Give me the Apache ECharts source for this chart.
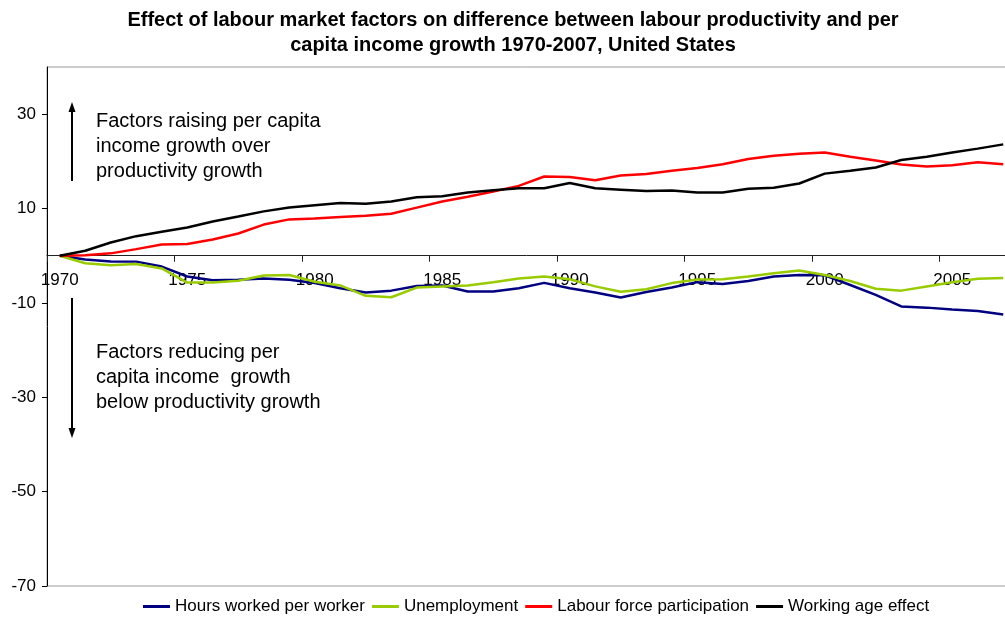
<!DOCTYPE html>
<html>
<head>
<meta charset="utf-8">
<title>Labour market factors, United States 1970-2007</title>
<script src="https://cdn.jsdelivr.net/npm/echarts@6/dist/echarts.min.js"></script>
<style>
  html, body { margin: 0; padding: 0; background: #fff; }
  #chart { width: 1005px; height: 617px; }
</style>
</head>
<body>
<div id="chart"></div>
<script>
// Years on the category axis
const years = [];
for (let y = 1970; y <= 2007; y++) years.push(String(y));

// Cumulative effect on the gap between per capita income and productivity growth (index points)
const hoursWorked = [0, -0.8, -1.2, -1.25, -2.3, -4.4, -5.2, -5.1, -4.85, -5.1,
  -5.8, -6.9, -7.8, -7.4, -6.4, -6.3, -7.6, -7.6, -6.9, -5.75,
  -6.9, -7.8, -8.85, -7.7, -6.75, -5.6, -6.0, -5.35, -4.4, -4.1,
  -4.15, -6.2, -8.3, -10.75, -11.0, -11.4, -11.7, -12.45];
const unemployment = [0, -1.6, -2.0, -1.75, -2.7, -5.7, -5.7, -5.3, -4.2, -4.1,
  -5.5, -6.3, -8.5, -8.8, -6.75, -6.5, -6.3, -5.6, -4.85, -4.4,
  -5.0, -6.5, -7.65, -7.1, -5.8, -5.05, -5.0, -4.4, -3.7, -3.15,
  -4.1, -5.35, -7.0, -7.4, -6.5, -5.6, -4.9, -4.7];
const participation = [0, 0.1, 0.5, 1.4, 2.4, 2.5, 3.45, 4.7, 6.6, 7.7,
  7.9, 8.2, 8.45, 8.9, 10.2, 11.5, 12.5, 13.6, 14.8, 16.8,
  16.7, 16.0, 17.0, 17.3, 18.0, 18.6, 19.4, 20.5, 21.2, 21.6,
  21.9, 21.0, 20.2, 19.35, 18.9, 19.2, 19.8, 19.4];
const workingAge = [0, 1.05, 2.8, 4.15, 5.1, 6.0, 7.25, 8.3, 9.4, 10.2,
  10.7, 11.2, 11.0, 11.5, 12.4, 12.6, 13.4, 13.9, 14.3, 14.3,
  15.4, 14.3, 14.0, 13.7, 13.8, 13.4, 13.4, 14.2, 14.4, 15.3,
  17.4, 18.0, 18.7, 20.3, 21.0, 21.9, 22.7, 23.6];

// Value axis range and tick labels
const yMin = -70, yMax = 40;
const yTicks = [-70, -50, -30, -10, 10, 30];

const seriesNames = ['Hours worked per worker', 'Unemployment', 'Labour force participation', 'Working age effect'];
const seriesColors = ['#000080', '#99CC00', '#FF0000', '#000000'];
const seriesData = [hoursWorked, unemployment, participation, workingAge];

const FONT = '"Liberation Sans", Arial, sans-serif';

// Plot area
const gridTop = 67, gridLeft = 47, gridWidth = 969, gridHeight = 519;
// The category axis sits on the zero line: shift it up from the bottom edge
const zeroOffset = -gridHeight * (0 - yMin) / (yMax - yMin);

const chart = echarts.init(document.getElementById('chart'), null, { renderer: 'canvas' });

chart.setOption({
  animation: false,
  backgroundColor: '#ffffff',
  grid: {
    left: gridLeft, top: gridTop, width: gridWidth, height: gridHeight,
    outerBoundsMode: 'none',
    containLabel: false,
    show: true, borderColor: '#999999', borderWidth: 1, backgroundColor: 'transparent'
  },
  xAxis: {
    type: 'category',
    data: years,
    boundaryGap: true,
    position: 'bottom',
    offset: zeroOffset,
    z: 0,
    axisLine: { onZero: false, lineStyle: { color: '#222222', width: 1 } },
    axisTick: { show: true, interval: 4, length: 6, lineStyle: { color: '#222222' } },
    axisLabel: { interval: 4, margin: 16, color: '#000', fontSize: 17, fontFamily: FONT },
    splitLine: { show: false }
  },
  yAxis: {
    type: 'value',
    min: yMin, max: yMax, interval: 20,
    axisLine: { show: true, lineStyle: { color: '#000000', width: 1 } },
    axisTick: { show: true, length: 5, customValues: yTicks, lineStyle: { color: '#000' } },
    axisLabel: { customValues: yTicks, margin: 11, color: '#000', fontSize: 17, fontFamily: FONT },
    splitLine: { show: false }
  },
  legend: {
    top: 593,
    left: 138,
    icon: 'rect',
    itemWidth: 27,
    itemHeight: 3,
    itemGap: 7,
    textStyle: { color: '#000', fontSize: 17, fontFamily: FONT },
    data: seriesNames
  },
  series: seriesNames.map((name, i) => ({
    name,
    type: 'line',
    data: seriesData[i],
    showSymbol: false,
    symbol: 'none',
    color: seriesColors[i],
    lineStyle: { color: seriesColors[i], width: 2.5 },
    z: 3 + i
  })),
  graphic: [
    {
      type: 'text',
      style: {
        text: 'Effect of labour market factors on difference between labour productivity and per\ncapita income growth 1970-2007, United States',
        x: 513, y: 8, align: 'center', verticalAlign: 'top',
        font: 'bold 20px ' + FONT, lineHeight: 25, fill: '#000'
      }
    },
    {
      type: 'text',
      style: {
        text: 'Factors raising per capita\nincome growth over\nproductivity growth',
        x: 96, y: 109, align: 'left', verticalAlign: 'top',
        font: '20px ' + FONT, lineHeight: 25, fill: '#000'
      }
    },
    {
      type: 'text',
      style: {
        text: 'Factors reducing per\ncapita income  growth\nbelow productivity growth',
        x: 96, y: 340, align: 'left', verticalAlign: 'top',
        font: '20px ' + FONT, lineHeight: 25, fill: '#000'
      }
    },
    { type: 'line', shape: { x1: 72, y1: 181, x2: 72, y2: 110 }, style: { stroke: '#000', lineWidth: 2 } },
    { type: 'polygon', shape: { points: [[72, 102], [68.5, 112], [75.5, 112]] }, style: { fill: '#000' } },
    { type: 'line', shape: { x1: 72, y1: 298, x2: 72, y2: 430 }, style: { stroke: '#000', lineWidth: 2 } },
    { type: 'polygon', shape: { points: [[72, 438], [68.5, 428], [75.5, 428]] }, style: { fill: '#000' } }
  ]
});
</script>
</body>
</html>
